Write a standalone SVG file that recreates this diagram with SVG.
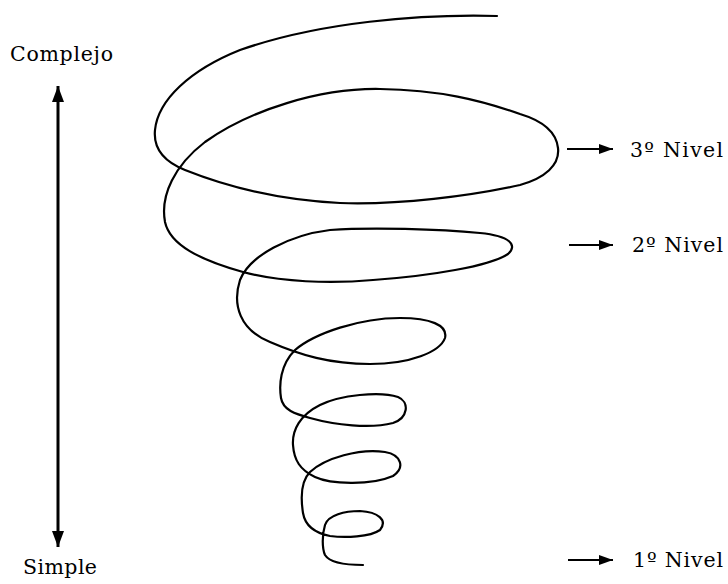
<svg xmlns="http://www.w3.org/2000/svg" width="728" height="584" viewBox="0 0 728 584">
<defs>
<style>
.lbl{font-family:"DejaVu Serif","Liberation Serif",serif;font-size:20.5px;fill:#000}
.spiral{fill:none;stroke:#000;stroke-width:2.2;stroke-linecap:round;stroke-linejoin:round}
.conn{fill:none;stroke:#000}
</style>
<marker id="headL" markerUnits="userSpaceOnUse" markerWidth="18" markerHeight="14" refX="16" refY="6" orient="auto-start-reverse" viewBox="0 0 18 12">
<path d="M0,0 L16,6 L0,12 Z" fill="#000"/>
</marker>
<marker id="headR" markerUnits="userSpaceOnUse" markerWidth="16" markerHeight="12" refX="14" refY="5" orient="auto" viewBox="0 0 16 10">
<path d="M0,0 L14,5 L0,10 Z" fill="#000"/>
</marker>
</defs>
<rect width="728" height="584" fill="#fff"/>
<g id="spiral">
<path class="spiral" d="M497,16 C420,14 320,22 240,50 C190,70 158,100 155,130 C153,150 165,162 185,170 C230,188 280,200 340,203 C400,205 470,196 520,185 C545,178 560,165 558,148 C556,130 540,120 520,114 C480,100 440,90 380,89 C320,88 250,110 205,142 C175,165 160,195 165,222 C170,245 200,260 243,272 C280,282 330,284 373,280 C430,276 490,266 508,254 C518,245 510,236 480,233 C440,229 370,227 330,230 C290,235 250,255 240,280 C232,305 240,330 270,342 C300,355 330,364 370,364 C410,364 440,352 445,338 C448,325 430,318 400,318 C360,318 315,333 295,350 C280,365 279,385 281,398 C283,410 295,414 310,418 C335,425 370,429 393,423 C408,418 410,402 398,397 C380,391 340,395 320,405 C300,415 292,430 293,445 C294,460 300,470 315,477 C330,484 370,486 393,476 C405,468 402,455 385,452 C360,448 325,458 310,472 C300,482 301,500 303,513 C305,525 315,533 330,536 C345,538 370,537 380,530 C388,520 378,512 360,511 C345,511 328,515 325,525 C322,535 322,548 325,555 C330,563 345,565 363,565"/>
</g>
<g id="connectors">
<line class="conn" x1="58" y1="86" x2="58" y2="547" stroke-width="3" marker-start="url(#headL)" marker-end="url(#headL)"/>
<line class="conn" x1="567" y1="149" x2="613" y2="149" stroke-width="2" marker-end="url(#headR)"/>
<line class="conn" x1="569" y1="245" x2="613" y2="245" stroke-width="2" marker-end="url(#headR)"/>
<line class="conn" x1="568" y1="560" x2="613" y2="560" stroke-width="2" marker-end="url(#headR)"/>
</g>
<g id="complejo"><text class="lbl" x="10" y="61" textLength="103">Complejo</text></g>
<g id="simple"><text class="lbl" x="23" y="574" textLength="74">Simple</text></g>
<g id="nivel3"><text class="lbl" x="630" y="157" textLength="93">3º Nivel</text></g>
<g id="nivel2"><text class="lbl" x="632" y="252" textLength="91">2º Nivel</text></g>
<g id="nivel1"><text class="lbl" x="633" y="567" textLength="90">1º Nivel</text></g>
</svg>
